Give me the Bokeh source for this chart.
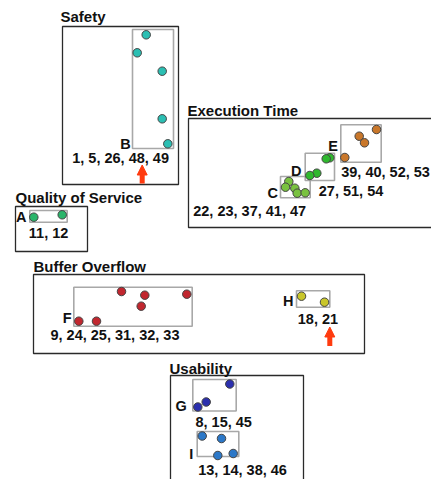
from bokeh.plotting import figure
from bokeh.models import Range1d, Arrow, NormalHead
from bokeh.core.properties import value
from bokeh.embed import file_html
from bokeh.resources import INLINE

# ---- data (diagram coordinates, y grows downwards) ----
category_names = ["Safety", "Execution Time", "Quality of Service", "Buffer Overflow", "Usability"]
category_title_x = [60, 187, 15, 33, 169]
category_title_y = [16, 110, 197, 266, 368]
category_left = [62, 188, 15, 33, 170]
category_top = [26, 118, 206, 274, 375]
category_right = [178, 460, 87, 364, 303]
category_bottom = [184, 227, 251, 353, 520]

cluster_ids = ["A", "B", "C", "D", "E", "F", "G", "H", "I"]
cluster_members = ["11, 12", "1, 5, 26, 48, 49", "22, 23, 37, 41, 47", "27, 51, 54",
                   "39, 40, 52, 53", "9, 24, 25, 31, 32, 33", "8, 15, 45", "18, 21",
                   "13, 14, 38, 46"]
cluster_colors = ["#2ab56a", "#2bbfb3", "#79c23f", "#2fb82e", "#c9772a",
                  "#c1272f", "#2b2fae", "#c9c62a", "#2c78c8"]

points_x = {
    "A": [33.3, 61.7],
    "B": [145.7, 136.7, 161.7, 161.7, 167.3],
    "C": [288.3, 285.0, 294.3, 296.7, 304.7],
    "D": [329.3, 325.7, 316.3, 309.3],
    "E": [376.0, 358.7, 364.0, 344.3],
    "F": [78.3, 96.0, 121.0, 144.3, 140.7, 186.3],
    "G": [229.3, 205.7, 197.3],
    "H": [301.0, 324.0],
    "I": [201.7, 221.0, 217.3, 232.7],
}
points_y = {
    "A": [216.7, 214.3],
    "B": [34.3, 52.3, 70.7, 118.3, 143.3],
    "C": [181.0, 186.7, 187.7, 192.7, 192.3],
    "D": [157.3, 158.3, 172.7, 175.0],
    "E": [129.0, 135.7, 142.3, 157.0],
    "F": [320.7, 320.7, 291.0, 294.7, 305.7, 293.7],
    "G": [383.5, 401.5, 406.5],
    "H": [295.7, 301.7],
    "I": [435.5, 438.0, 455.0, 453.0],
}

# ---- layout ----
cluster_box_left = [29.3, 132, 280, 304.7, 340.3, 73.3, 192.3, 296, 196.7]
cluster_box_top = [210, 29, 176, 152.7, 124.3, 286.7, 379, 290.3, 431]
cluster_box_right = [66.7, 173, 309.7, 334, 380.7, 191.7, 235.7, 329.3, 238.3]
cluster_box_bottom = [221.7, 148, 197.3, 180, 161.7, 325.7, 410.5, 306.7, 456]
id_label_x = [20.7, 125, 272.3, 295.7, 332.7, 66.7, 180.7, 287.7, 190.7]
id_label_y = [216.7, 143.3, 192.3, 170, 145, 317.3, 405.5, 300.7, 453.5]
member_label_x = [28.3, 71.7, 192.7, 318.3, 340.7, 50, 195, 297.3, 197.7]
member_label_y = [232.7, 157.7, 210, 190.7, 171, 334, 421.5, 318.3, 469.5]

arrow_x = [141.7, 329.3]
arrow_y_start = [183, 345.5]
arrow_y_end = [164.5, 326.5]

FONT = value("Liberation Sans")

p = figure(width=431, height=479, output_backend="svg", toolbar_location=None,
           x_range=Range1d(0, 431), y_range=Range1d(479, 0),
           x_axis_type=None, y_axis_type=None, min_border=0)
p.grid.visible = False
p.outline_line_color = None
p.background_fill_color = "white"

# outer category boxes
p.quad(left=category_left, right=category_right, top=category_top, bottom=category_bottom,
       fill_color=None, line_color="#2a2a2a", line_width=1.3)
p.text(x=category_title_x, y=category_title_y, text=category_names,
       text_font=FONT, text_font_style="bold", text_font_size="15px",
       text_align="left", text_baseline="middle", text_color="#111111")

# inner cluster boxes
p.quad(left=cluster_box_left, right=cluster_box_right, top=cluster_box_top,
       bottom=cluster_box_bottom, fill_color=None, line_color="#a8a8a8", line_width=1.6)

for cid, col in zip(cluster_ids, cluster_colors):
    p.scatter(x=points_x[cid], y=points_y[cid], size=8.5, fill_color=col,
              line_color="#444444", line_width=1)

p.text(x=id_label_x, y=id_label_y, text=cluster_ids, text_font=FONT,
       text_font_style="bold", text_font_size="14.5px", text_align="center",
       text_baseline="middle", text_color="#111111")
p.text(x=member_label_x, y=member_label_y, text=cluster_members, text_font=FONT,
       text_font_style="bold", text_font_size="14.5px", text_align="left",
       text_baseline="middle", text_color="#111111")

for ax, ys, ye in zip(arrow_x, arrow_y_start, arrow_y_end):
    p.add_layout(Arrow(end=NormalHead(size=10, fill_color="#ff3b0f", line_color="#ff3b0f"),
                       x_start=ax, y_start=ys, x_end=ax, y_end=ye,
                       line_color="#ff3b0f", line_width=5))

open("out.html", "w").write(file_html(p, INLINE))
